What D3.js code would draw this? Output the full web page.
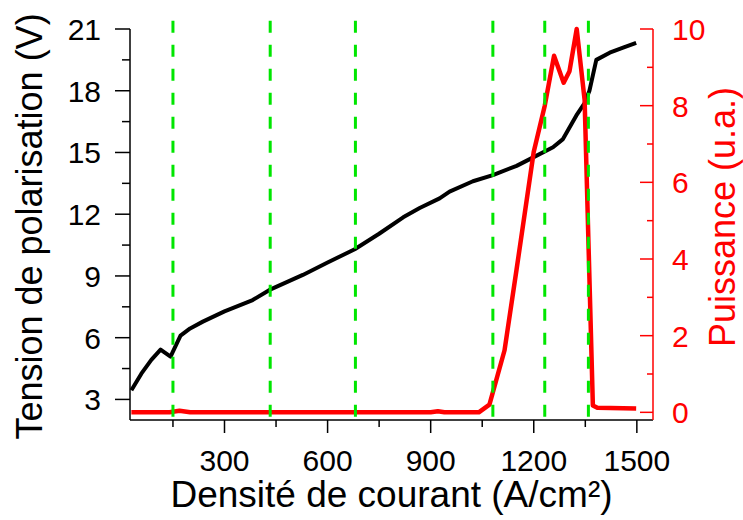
<!DOCTYPE html>
<html>
<head>
<meta charset="utf-8">
<script src="https://cdn.jsdelivr.net/npm/d3@7"></script>
<style>
  body { margin: 0; background: #fff; }
  svg { display: block; font-family: "Liberation Sans", Arial, Helvetica, sans-serif; }
</style>
</head>
<body>
<div id="chart"></div>
<script>
// tension de polarisation (V) vs densité de courant
var currentV = [29, 58, 87, 114, 143, 172, 200, 237, 300, 382, 431, 528, 600, 679, 750, 820, 868, 926, 955, 1023, 1081, 1150, 1197, 1256, 1285, 1324, 1348, 1362, 1382, 1421, 1460, 1498];
var voltage  = [3.45, 4.25, 4.92, 5.42, 5.08, 6.1, 6.45, 6.78, 7.28, 7.83, 8.32, 9.05, 9.65, 10.3, 11.05, 11.85, 12.3, 12.77, 13.1, 13.6, 13.9, 14.35, 14.75, 15.25, 15.65, 16.8, 17.4, 18.0, 19.5, 19.85, 20.1, 20.33];

// puissance (u.a.)
var currentP = [29, 140, 169, 200, 400, 600, 900, 921, 940, 1040, 1071, 1115, 1150, 1200, 1232, 1259, 1287, 1304, 1325, 1348, 1372, 1385, 1498];
var power    = [0, 0, 0.04, 0, 0, 0, 0, 0.03, 0, 0, 0.2, 1.62, 3.73, 6.8, 8.0, 9.3, 8.6, 8.9, 10.0, 8.15, 0.18, 0.12, 0.1];

// green dashed markers
var markers = [150, 433, 681, 1081, 1232, 1359];

var xTicks = [300, 600, 900, 1200, 1500],
	xMinor = [150, 450, 750, 1050, 1350],
	yLTicks = [3, 6, 9, 12, 15, 18, 21],
	yLMinor = [4.5, 7.5, 10.5, 13.5, 16.5, 19.5],
	yRTicks = [0, 2, 4, 6, 8, 10],
	yRMinor = [1, 3, 5, 7, 9];

var width = 743,
	height = 520,
	LEFT = 130,
	RIGHT = 653,
	TOP = 29,
	BOTTOM = 420,
	TICK_FONT = 30,
	TITLE_FONT = 36;

var svg = d3.select("#chart").append("svg")
	.attr("width", width)
	.attr("height", height);

var x = d3.scaleLinear().domain([25, 1547]).range([LEFT, RIGHT]);
var yL = d3.scaleLinear().domain([2, 21]).range([BOTTOM, TOP]);
var yR = d3.scaleLinear().domain([-0.2, 10]).range([BOTTOM, TOP]);

// curves
var lineV = d3.line()
	.x(function(d, i) { return x(currentV[i]); })
	.y(function(d) { return yL(d); });

var lineP = d3.line()
	.x(function(d, i) { return x(currentP[i]); })
	.y(function(d) { return yR(d); });

svg.append("path")
	.attr("d", lineV(voltage))
	.attr("fill", "none")
	.attr("stroke", "black")
	.attr("stroke-width", 4)
	.attr("stroke-linejoin", "round");

svg.append("path")
	.attr("d", lineP(power))
	.attr("fill", "none")
	.attr("stroke", "#ff0000")
	.attr("stroke-width", 4.5)
	.attr("stroke-linejoin", "round");

svg.append("g").selectAll("line")
	.data(markers)
	.enter()
	.append("line")
	.attr("x1", function(d) { return x(d); })
	.attr("x2", function(d) { return x(d); })
	.attr("y1", yL(21.4))
	.attr("y2", BOTTOM)
	.attr("stroke", "#00e600")
	.attr("stroke-width", 3)
	.attr("stroke-dasharray", "12,12");

// bottom axis
var gx = svg.append("g").attr("transform", "translate(0," + BOTTOM + ")");
gx.append("line").attr("x1", LEFT).attr("x2", RIGHT).attr("stroke", "black").attr("stroke-width", 1.5);
gx.selectAll(".major").data(xTicks).enter().append("line")
	.attr("x1", function(d) { return x(d); }).attr("x2", function(d) { return x(d); })
	.attr("y1", 0).attr("y2", 13).attr("stroke", "black").attr("stroke-width", 1.5);
gx.selectAll(".minor").data(xMinor).enter().append("line")
	.attr("x1", function(d) { return x(d); }).attr("x2", function(d) { return x(d); })
	.attr("y1", 0).attr("y2", 7).attr("stroke", "black").attr("stroke-width", 1.5);
gx.selectAll("text").data(xTicks).enter().append("text")
	.attr("x", function(d) { return x(d); })
	.attr("y", 51)
	.attr("text-anchor", "middle")
	.style("font-size", TICK_FONT + "px")
	.text(function(d) { return d; });

// left axis
var gl = svg.append("g").attr("transform", "translate(" + LEFT + ",0)");
gl.append("line").attr("y1", TOP).attr("y2", BOTTOM).attr("stroke", "black").attr("stroke-width", 1.5);
gl.selectAll(".major").data(yLTicks).enter().append("line")
	.attr("y1", function(d) { return yL(d); }).attr("y2", function(d) { return yL(d); })
	.attr("x1", -15).attr("x2", 0).attr("stroke", "black").attr("stroke-width", 1.5);
gl.selectAll(".minor").data(yLMinor).enter().append("line")
	.attr("y1", function(d) { return yL(d); }).attr("y2", function(d) { return yL(d); })
	.attr("x1", -8).attr("x2", 0).attr("stroke", "black").attr("stroke-width", 1.5);
gl.selectAll("text").data(yLTicks).enter().append("text")
	.attr("x", -29)
	.attr("y", function(d) { return yL(d) + 11; })
	.attr("text-anchor", "end")
	.style("font-size", TICK_FONT + "px")
	.text(function(d) { return d; });

// right axis (red)
var gr = svg.append("g").attr("transform", "translate(" + RIGHT + ",0)");
gr.append("line").attr("y1", TOP).attr("y2", BOTTOM).attr("stroke", "#ff0000").attr("stroke-width", 1.5);
gr.selectAll(".major").data(yRTicks).enter().append("line")
	.attr("y1", function(d) { return yR(d); }).attr("y2", function(d) { return yR(d); })
	.attr("x1", -13).attr("x2", 0).attr("stroke", "#ff0000").attr("stroke-width", 1.5);
gr.selectAll(".minor").data(yRMinor).enter().append("line")
	.attr("y1", function(d) { return yR(d); }).attr("y2", function(d) { return yR(d); })
	.attr("x1", -6).attr("x2", 0).attr("stroke", "#ff0000").attr("stroke-width", 1.5);
gr.selectAll("text").data(yRTicks).enter().append("text")
	.attr("x", 19)
	.attr("y", function(d) { return yR(d) + 11; })
	.attr("fill", "#ff0000")
	.style("font-size", TICK_FONT + "px")
	.text(function(d) { return d; });

// titles
svg.append("text")
	.attr("x", (LEFT + RIGHT) / 2)
	.attr("y", 507)
	.attr("text-anchor", "middle")
	.style("font-size", "37px")
	.text("Densité de courant (A/cm²)");

svg.append("text")
	.attr("transform", "translate(42," + (TOP + BOTTOM + 4) / 2 + ") rotate(-90)")
	.attr("text-anchor", "middle")
	.style("font-size", TITLE_FONT + "px")
	.text("Tension de polarisation (V)");

svg.append("text")
	.attr("transform", "translate(735,217) rotate(-90)")
	.attr("text-anchor", "middle")
	.attr("fill", "#ff0000")
	.style("font-size", TITLE_FONT + "px")
	.text("Puissance (u.a.)");
</script>
</body>
</html>
